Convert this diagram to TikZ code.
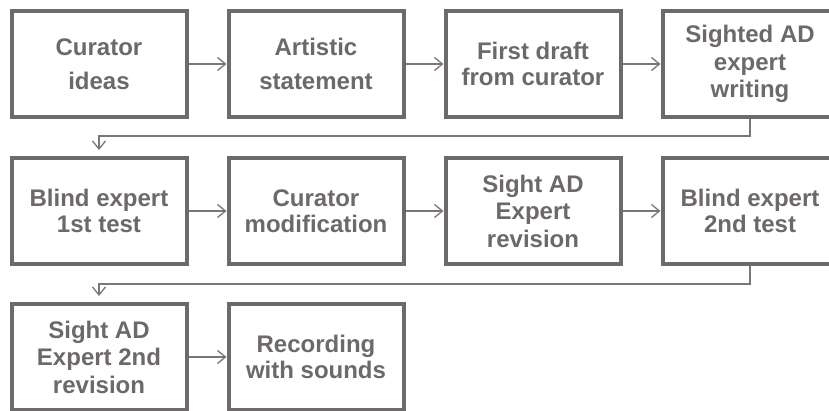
\documentclass[tikz,border=0pt]{standalone}
\usepackage{fontspec}
\setmainfont{Liberation Sans}
\usetikzlibrary{arrows.meta}
\definecolor{boxgray}{HTML}{6F6A6A}
\definecolor{txtgray}{HTML}{6E6969}
\definecolor{linegray}{HTML}{7D7676}
\begin{document}
\begin{tikzpicture}[x=1pt,y=-1pt,
  stepbox/.style={draw=boxgray, line width=4pt, minimum width=175pt, minimum height=106pt,
    inner sep=0pt, align=center, text=txtgray, font=\fontsize{24}{26}\selectfont\bfseries},
  wide/.style={font=\fontsize{24}{34}\selectfont\bfseries},
  three/.style={font=\fontsize{24}{27.5}\selectfont\bfseries},
  conn/.style={draw=linegray, line width=1.3pt, -{Straight Barb[length=8pt,width=13pt,line width=1.3pt]}}]
\fill[white] (0,0) rectangle (829,411);
\useasboundingbox (0,0) rectangle (829,411);
\node[stepbox,wide] (b1) at (99,64) {Curator\\ideas};
\node[stepbox,wide] (b2) at (316,64) {Artistic\\statement};
\node[stepbox] (b3) at (533,64) {First draft\\from curator};
\node[stepbox,three] (b4) at (750,64) {Sighted AD\\expert\\writing};
\node[stepbox] (b5) at (99,211) {Blind expert\\1st test};
\node[stepbox] (b6) at (316,211) {Curator\\modification};
\node[stepbox,three] (b7) at (533,211) {Sight AD\\Expert\\revision};
\node[stepbox] (b8) at (750,211) {Blind expert\\2nd test};
\node[stepbox,three] (b9) at (99,357) {Sight AD\\Expert 2nd\\revision};
\node[stepbox] (b10) at (316,357) {Recording\\with sounds};
\coordinate (t5) at ([yshift=6pt]b5.north);
\coordinate (t9) at ([yshift=6pt]b9.north);
\draw[conn] (b1) -- (b2);
\draw[conn] (b2) -- (b3);
\draw[conn] (b3) -- (b4);
\draw[conn] (b4.south) -- ++(0,17) -| (t5);
\draw[conn] (b5) -- (b6);
\draw[conn] (b6) -- (b7);
\draw[conn] (b7) -- (b8);
\draw[conn] (b8.south) -- ++(0,18) -| (t9);
\draw[conn] (b9) -- (b10);
\end{tikzpicture}
\end{document}
